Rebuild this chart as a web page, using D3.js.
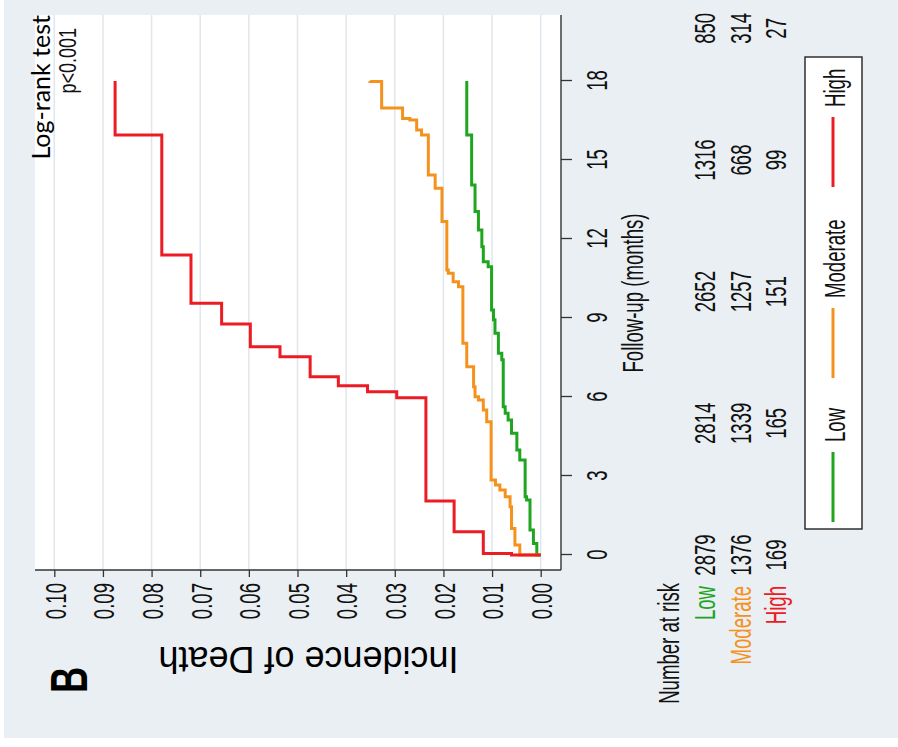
<!DOCTYPE html>
<html><head><meta charset="utf-8">
<script src="https://cdn.jsdelivr.net/npm/d3@7"></script>
<style>body{margin:0;background:#fff}svg{display:block}</style>
</head><body>
<script>
// ---------- data ----------
const timeTicks = [0, 3, 6, 9, 12, 15, 18];
const incTicks = [0, 0.01, 0.02, 0.03, 0.04, 0.05, 0.06, 0.07, 0.08, 0.09, 0.10];
const groups = ["Low", "Moderate", "High"];
const riskTimes = [0, 5, 10, 15, 20];
const riskLow = [2879, 2814, 2652, 1316, 850];
const riskModerate = [1376, 1339, 1257, 668, 314];
const riskHigh = [169, 165, 151, 99, 27];

const lowTime = [0, 0, 0.44, 0.95, 2.09, 2.21, 3.61, 3.99, 4.62, 5.13, 5.38, 5.63, 7.41, 7.66, 8.42, 8.93, 9.30, 10.95, 11.14, 11.71, 12.34, 13.04, 14.05, 15.95, 18];
const lowInc = [0, 0.0008, 0.0015, 0.0022, 0.0029, 0.0032, 0.0043, 0.0049, 0.0060, 0.0067, 0.0073, 0.0077, 0.0080, 0.0087, 0.0094, 0.0097, 0.0101, 0.0108, 0.0118, 0.0121, 0.0128, 0.0135, 0.0142, 0.0152, 0.0152];

const modTime = [0, 0, 0.38, 1.01, 1.83, 2.21, 2.47, 2.66, 2.85, 5.06, 5.51, 5.89, 6.01, 6.39, 7.15, 8.04, 10.19, 10.38, 10.70, 10.82, 12.66, 13.93, 14.43, 15.95, 16.14, 16.52, 16.58, 16.97, 17.98, 18];
const modInc = [0, 0.0043, 0.0053, 0.0060, 0.0063, 0.0073, 0.0084, 0.0093, 0.0102, 0.0111, 0.0118, 0.0128, 0.0135, 0.0138, 0.0152, 0.0160, 0.0169, 0.0180, 0.0190, 0.0193, 0.0203, 0.0217, 0.0231, 0.0245, 0.0255, 0.0269, 0.0284, 0.0327, 0.0351, 0.0351];

const highTime = [0, 0, 0.06, 0.88, 2.05, 5.97, 6.20, 6.43, 6.77, 7.53, 7.91, 8.77, 9.56, 11.39, 15.95, 18];
const highInc = [0, 0.0060, 0.0118, 0.0178, 0.0236, 0.0296, 0.0356, 0.0416, 0.0474, 0.0536, 0.0597, 0.0656, 0.0719, 0.0779, 0.0875, 0.0875];

// ---------- layout ----------
const W = 898, H = 747;
const SX = 0.62;                       // horizontal squeeze of the Stata text
const FONT = "'Liberation Sans', Arial, sans-serif";
const colors = {Low: "#1fa51f", Moderate: "#f5921e", High: "#ec1c24"};
const P = {x0: 177, x1: 732, y0: 35, y1: 561};

const svg = d3.select("body").append("svg").attr("width", W).attr("height", H);
svg.append("rect").attr("x", 4).attr("y", 0).attr("width", W - 4).attr("height", 738).attr("fill", "#e9eff2");

// the whole chart is drawn upright, then turned a quarter turn counter-clockwise
const g = svg.append("g").attr("transform", `translate(0,${H}) rotate(-90)`)
  .attr("font-family", FONT);

g.append("rect").attr("x", P.x0).attr("y", P.y0)
  .attr("width", P.x1 - P.x0).attr("height", P.y1 - P.y0).attr("fill", "#fff");

const x = d3.scaleLinear().domain([0, 18]).range([192, 666]);
const y = d3.scaleLinear().domain([0, 0.1]).range([540.7, 54.3]);

// grid
g.append("g").selectAll("line").data(incTicks).join("line")
  .attr("x1", P.x0).attr("x2", P.x1)
  .attr("y1", d => y(d)).attr("y2", d => y(d))
  .attr("stroke", "#e0e7ec").attr("stroke-width", 1.5);

// y axis
const yAx = g.append("g").attr("transform", `translate(${P.x0},0)`)
  .call(d3.axisLeft(y).tickValues(incTicks).tickSize(7).tickFormat(d3.format(".2f")));
yAx.attr("font-size", 30).attr("font-family", FONT);
yAx.select(".domain").remove();
yAx.selectAll("line").attr("stroke", "#333").attr("stroke-width", 1.3);
yAx.selectAll("text").attr("x", 0).attr("dy", "0.36em").attr("fill", "#111")
  .attr("transform", `translate(-13,0) scale(${SX},1)`);

// x axis
const xAx = g.append("g").attr("transform", `translate(0,${P.y1})`)
  .call(d3.axisBottom(x).tickValues(timeTicks).tickSize(11));
xAx.attr("font-size", 30).attr("font-family", FONT);
xAx.select(".domain").remove();
xAx.selectAll("line").attr("stroke", "#333").attr("stroke-width", 1.3);
xAx.selectAll("text").attr("y", 0).attr("dy", 0).attr("fill", "#111")
  .attr("transform", `translate(0,46) scale(${SX},1)`);

// axis lines
g.append("line").attr("x1", P.x0).attr("x2", P.x1).attr("y1", P.y1).attr("y2", P.y1)
  .attr("stroke", "#333").attr("stroke-width", 1.4);
g.append("line").attr("x1", P.x0).attr("x2", P.x0).attr("y1", P.y0).attr("y2", P.y1)
  .attr("stroke", "#333").attr("stroke-width", 1.4);

// curves
const line = d3.line().x(d => x(d[0])).y(d => y(d[1])).curve(d3.curveStepAfter);
const series = [
  {name: "Low", data: d3.zip(lowTime, lowInc)},
  {name: "Moderate", data: d3.zip(modTime, modInc)},
  {name: "High", data: d3.zip(highTime, highInc)}
];
g.append("g").selectAll("path").data(series).join("path")
  .attr("d", d => line(d.data)).attr("fill", "none")
  .attr("stroke", d => colors[d.name]).attr("stroke-width", 3);

// axis titles
g.append("text").attr("transform", `translate(454,643) scale(${SX},1)`)
  .attr("text-anchor", "middle").attr("font-size", 30).attr("fill", "#111")
  .text("Follow-up (months)");

g.append("text").attr("transform", "translate(100,308.5) rotate(-90)")
  .attr("text-anchor", "middle").attr("font-size", 36).attr("fill", "#000")
  .text("Incidence of Death");

g.append("text").attr("transform", `translate(54,87) scale(0.7,1)`)
  .attr("font-size", 52).attr("font-weight", "bold").attr("fill", "#000").text("B");

// annotations
g.append("text").attr("x", 732).attr("y", 50).attr("text-anchor", "end")
  .attr("font-family", "Lato, 'Open Sans', sans-serif").attr("font-size", 25).attr("fill", "#000")
  .text("Log-rank test");
g.append("text").attr("transform", "translate(719,76) scale(0.75,1)").attr("text-anchor", "end")
  .attr("font-size", 24).attr("fill", "#111").text("p<0.001");

// number at risk
const riskRows = [riskLow, riskModerate, riskHigh];
const rowY = [715, 751, 786];
g.append("text").attr("transform", `translate(164,679) scale(${SX},1)`).attr("text-anchor", "end")
  .attr("font-size", 30).attr("fill", "#111").text("Number at risk");
groups.forEach((name, i) => {
  g.append("text").attr("transform", `translate(161,${rowY[i]}) scale(${SX},1)`).attr("text-anchor", "end")
    .attr("font-size", 30).attr("fill", colors[name]).text(name);
  g.append("g").selectAll("text").data(d3.zip(riskTimes, riskRows[i])).join("text")
    .attr("transform", d => `translate(${x(d[0])},${rowY[i]}) scale(${SX},1)`)
    .attr("text-anchor", "middle").attr("font-size", 30).attr("fill", "#111").text(d => d[1]);
});

// legend
const L = g.append("g");
L.append("rect").attr("x", 218).attr("y", 805).attr("width", 472).attr("height", 57)
  .attr("fill", "#fff").attr("stroke", "#222").attr("stroke-width", 1.4);
const legX = [225, 369, 560];
groups.forEach((name, i) => {
  L.append("line").attr("x1", legX[i]).attr("x2", legX[i] + 70).attr("y1", 833).attr("y2", 833)
    .attr("stroke", colors[name]).attr("stroke-width", 3);
  L.append("text").attr("transform", `translate(${legX[i] + 80},845) scale(${SX},1)`)
    .attr("font-size", 30).attr("fill", "#111").text(name);
});
</script>
</body></html>
